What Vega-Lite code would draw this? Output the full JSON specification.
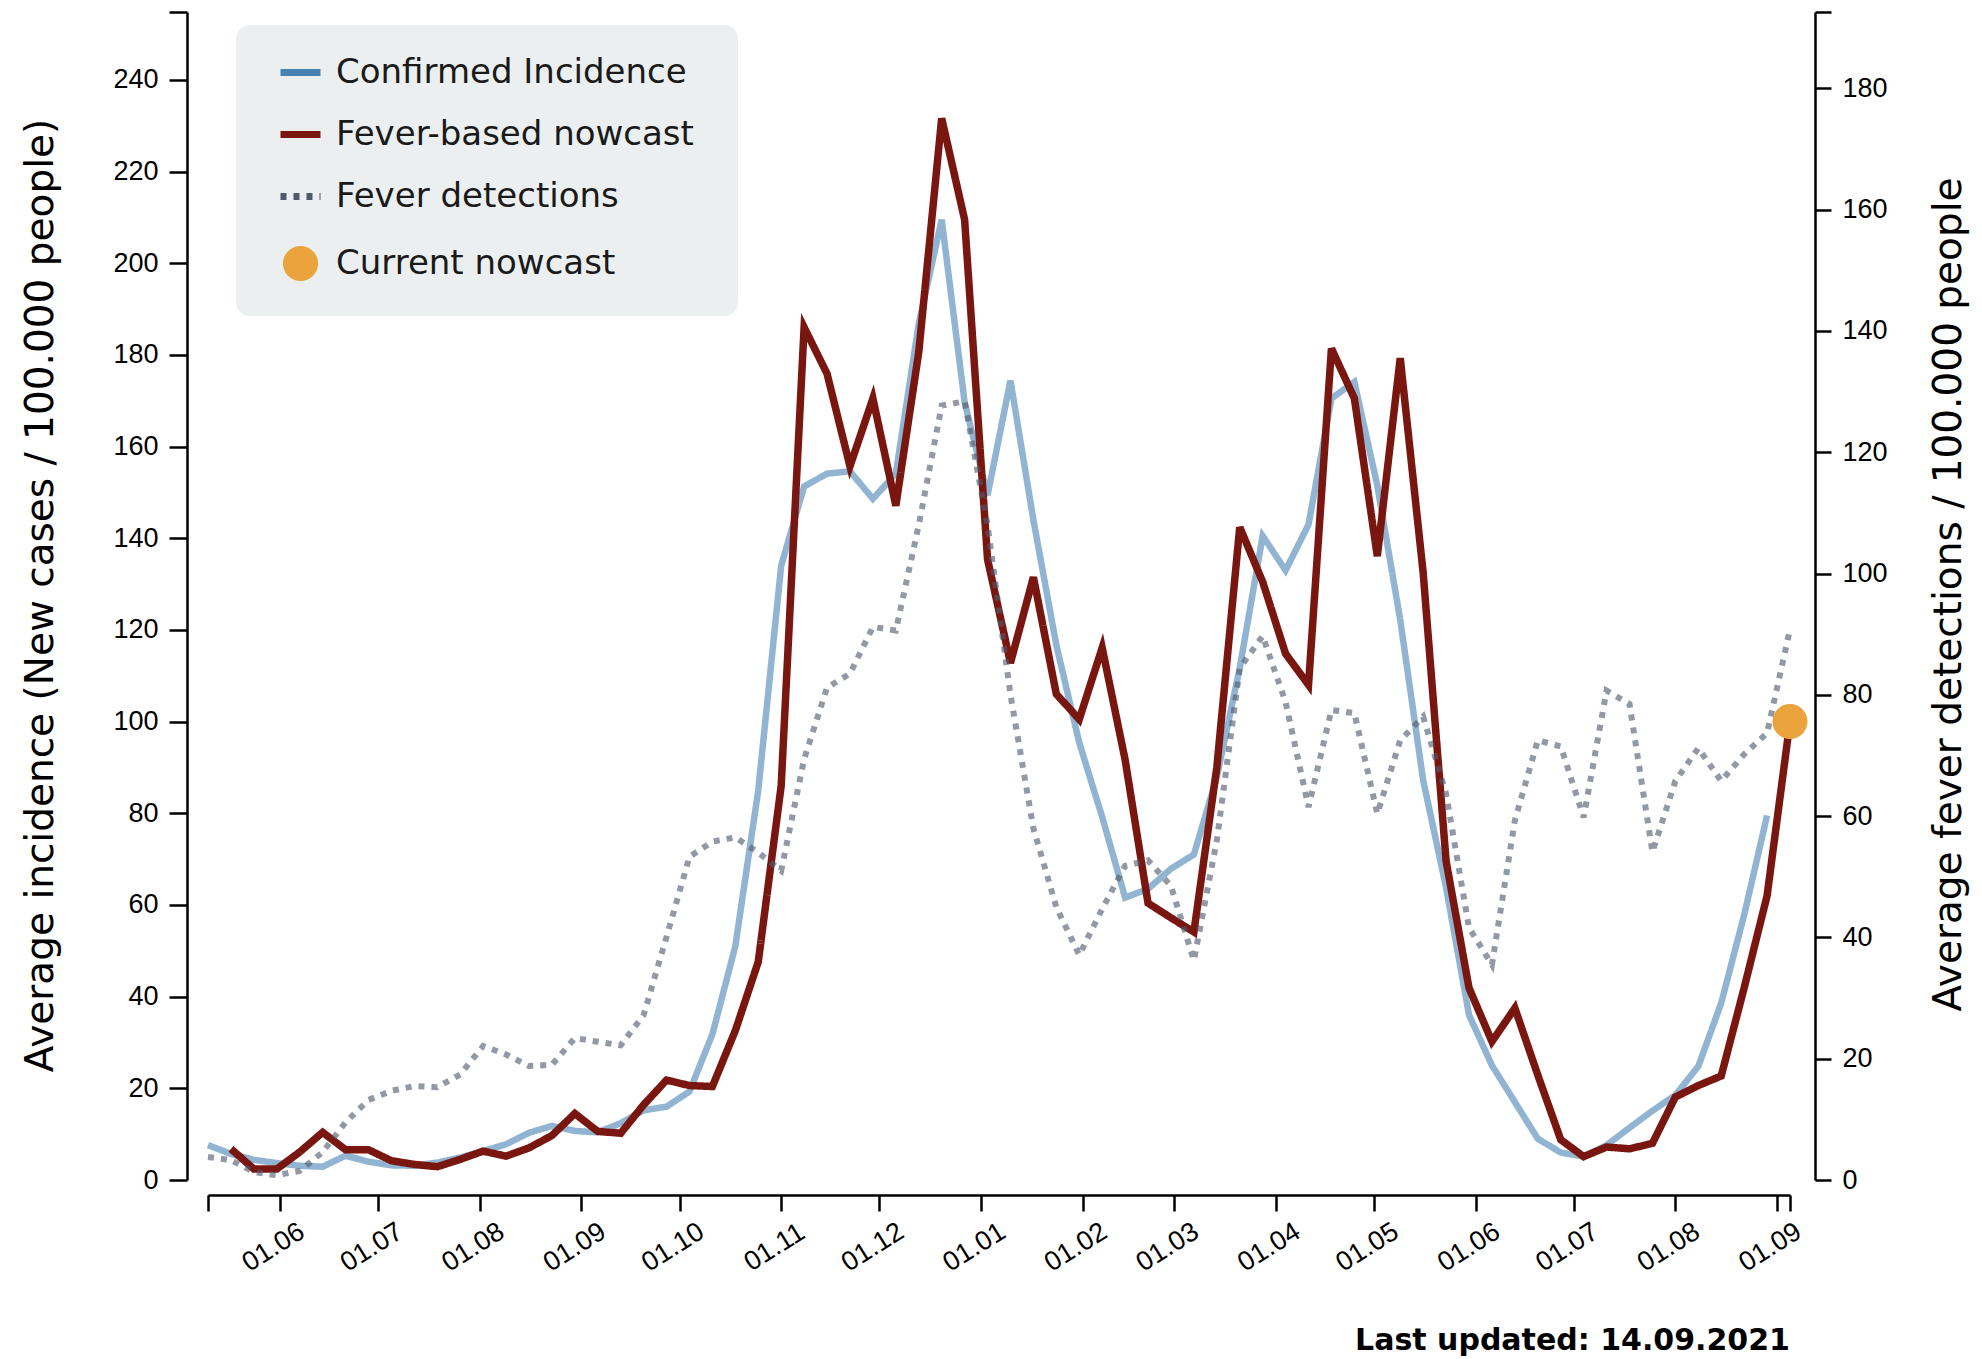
{
  "$schema": "https://vega.github.io/schema/vega-lite/v6.json",
  "width": 1582,
  "height": 1168,
  "autosize": {"type": "none"},
  "padding": {"left": 208, "top": 12, "right": 192, "bottom": 179},
  "background": "white",
  "config": {
    "view": {"stroke": null},
    "axis": {
      "labelFont": "Liberation Sans",
      "labelFontSize": 27,
      "labelColor": "#000000",
      "domainColor": "#000000",
      "tickColor": "#000000",
      "domainWidth": 2.5,
      "tickWidth": 2.5,
      "grid": false,
      "titleFont": "DejaVu Sans",
      "titleFontSize": 39,
      "titleFontWeight": "normal",
      "titleColor": "#000000",
      "labelOverlap": false,
      "labelFlush": false
    }
  },
  "title": {
    "text": "Last updated: 14.09.2021",
    "orient": "bottom",
    "anchor": "end",
    "frame": "group",
    "font": "DejaVu Sans",
    "fontSize": 30,
    "fontWeight": "bold",
    "color": "#000000",
    "offset": 50
  },
  "data": {
    "values": [
      {"date": "2020-05-10", "confirmed": 7.6, "nowcast": null, "fever": 3.8, "current": null},
      {"date": "2020-05-17", "confirmed": 5.7, "nowcast": 6.8, "fever": 3.3, "current": null},
      {"date": "2020-05-24", "confirmed": 4.4, "nowcast": 2.4, "fever": 1.3, "current": null},
      {"date": "2020-05-31", "confirmed": 3.7, "nowcast": 2.4, "fever": 0.8, "current": null},
      {"date": "2020-06-07", "confirmed": 3.1, "nowcast": 6.1, "fever": 1.5, "current": null},
      {"date": "2020-06-14", "confirmed": 2.9, "nowcast": 10.4, "fever": 4.6, "current": null},
      {"date": "2020-06-21", "confirmed": 5.3, "nowcast": 6.6, "fever": 9.5, "current": null},
      {"date": "2020-06-28", "confirmed": 4.0, "nowcast": 6.6, "fever": 13.2, "current": null},
      {"date": "2020-07-05", "confirmed": 3.2, "nowcast": 4.2, "fever": 14.7, "current": null},
      {"date": "2020-07-12", "confirmed": 3.1, "nowcast": 3.4, "fever": 15.5, "current": null},
      {"date": "2020-07-19", "confirmed": 3.8, "nowcast": 2.9, "fever": 15.3, "current": null},
      {"date": "2020-07-26", "confirmed": 4.9, "nowcast": 4.5, "fever": 17.4, "current": null},
      {"date": "2020-08-02", "confirmed": 6.3, "nowcast": 6.3, "fever": 22.1, "current": null},
      {"date": "2020-08-09", "confirmed": 7.8, "nowcast": 5.2, "fever": 20.7, "current": null},
      {"date": "2020-08-16", "confirmed": 10.3, "nowcast": 7.0, "fever": 18.8, "current": null},
      {"date": "2020-08-23", "confirmed": 11.8, "nowcast": 9.7, "fever": 19.0, "current": null},
      {"date": "2020-08-30", "confirmed": 10.7, "nowcast": 14.5, "fever": 23.4, "current": null},
      {"date": "2020-09-06", "confirmed": 10.4, "nowcast": 10.6, "fever": 22.8, "current": null},
      {"date": "2020-09-13", "confirmed": 12.4, "nowcast": 10.2, "fever": 22.2, "current": null},
      {"date": "2020-09-20", "confirmed": 15.2, "nowcast": 16.4, "fever": 27.2, "current": null},
      {"date": "2020-09-27", "confirmed": 16.0, "nowcast": 21.8, "fever": 40.1, "current": null},
      {"date": "2020-10-04", "confirmed": 19.3, "nowcast": 20.6, "fever": 53.3, "current": null},
      {"date": "2020-10-11", "confirmed": 31.8, "nowcast": 20.4, "fever": 55.8, "current": null},
      {"date": "2020-10-18", "confirmed": 51.0, "nowcast": 32.6, "fever": 56.5, "current": null},
      {"date": "2020-10-25", "confirmed": 85.0, "nowcast": 47.6, "fever": 54.0, "current": null},
      {"date": "2020-11-01", "confirmed": 134.0, "nowcast": 86.0, "fever": 51.0, "current": null},
      {"date": "2020-11-08", "confirmed": 151.3, "nowcast": 186.0, "fever": 69.4, "current": null},
      {"date": "2020-11-15", "confirmed": 154.1, "nowcast": 175.9, "fever": 81.2, "current": null},
      {"date": "2020-11-22", "confirmed": 154.6, "nowcast": 155.7, "fever": 83.5, "current": null},
      {"date": "2020-11-29", "confirmed": 148.6, "nowcast": 170.5, "fever": 91.2, "current": null},
      {"date": "2020-12-06", "confirmed": 154.1, "nowcast": 147.1, "fever": 90.6, "current": null},
      {"date": "2020-12-13", "confirmed": 186.8, "nowcast": 180.6, "fever": 108.0, "current": null},
      {"date": "2020-12-20", "confirmed": 209.5, "nowcast": 231.6, "fever": 127.7, "current": null},
      {"date": "2020-12-27", "confirmed": 169.7, "nowcast": 209.5, "fever": 128.4, "current": null},
      {"date": "2021-01-03", "confirmed": 149.4, "nowcast": 135.4, "fever": 108.0, "current": null},
      {"date": "2021-01-10", "confirmed": 174.4, "nowcast": 112.8, "fever": 80.0, "current": null},
      {"date": "2021-01-17", "confirmed": 144.0, "nowcast": 131.5, "fever": 58.0, "current": null},
      {"date": "2021-01-24", "confirmed": 116.7, "nowcast": 106.0, "fever": 45.0, "current": null},
      {"date": "2021-01-31", "confirmed": 95.4, "nowcast": 100.5, "fever": 37.1, "current": null},
      {"date": "2021-02-07", "confirmed": 79.2, "nowcast": 116.1, "fever": 44.7, "current": null},
      {"date": "2021-02-14", "confirmed": 61.6, "nowcast": 91.7, "fever": 51.8, "current": null},
      {"date": "2021-02-21", "confirmed": 63.5, "nowcast": 60.4, "fever": 52.7, "current": null},
      {"date": "2021-02-28", "confirmed": 67.9, "nowcast": 57.2, "fever": 48.5, "current": null},
      {"date": "2021-03-07", "confirmed": 71.0, "nowcast": 54.1, "fever": 36.2, "current": null},
      {"date": "2021-03-14", "confirmed": 87.9, "nowcast": 90.0, "fever": 56.0, "current": null},
      {"date": "2021-03-21", "confirmed": 111.7, "nowcast": 142.4, "fever": 84.4, "current": null},
      {"date": "2021-03-28", "confirmed": 140.5, "nowcast": 130.5, "fever": 89.7, "current": null},
      {"date": "2021-04-04", "confirmed": 133.0, "nowcast": 114.8, "fever": 78.8, "current": null},
      {"date": "2021-04-11", "confirmed": 143.0, "nowcast": 108.0, "fever": 61.5, "current": null},
      {"date": "2021-04-18", "confirmed": 170.5, "nowcast": 181.4, "fever": 77.5, "current": null},
      {"date": "2021-04-25", "confirmed": 174.1, "nowcast": 170.5, "fever": 77.0, "current": null},
      {"date": "2021-05-02", "confirmed": 151.5, "nowcast": 136.1, "fever": 60.4, "current": null},
      {"date": "2021-05-09", "confirmed": 122.2, "nowcast": 179.3, "fever": 72.5, "current": null},
      {"date": "2021-05-16", "confirmed": 87.2, "nowcast": 132.5, "fever": 76.4, "current": null},
      {"date": "2021-05-23", "confirmed": 63.8, "nowcast": 69.6, "fever": 63.7, "current": null},
      {"date": "2021-05-30", "confirmed": 36.0, "nowcast": 41.9, "fever": 41.6, "current": null},
      {"date": "2021-06-06", "confirmed": 25.0, "nowcast": 30.2, "fever": 35.5, "current": null},
      {"date": "2021-06-13", "confirmed": 17.0, "nowcast": 37.5, "fever": 59.3, "current": null},
      {"date": "2021-06-20", "confirmed": 9.0, "nowcast": 22.9, "fever": 72.5, "current": null},
      {"date": "2021-06-27", "confirmed": 6.0, "nowcast": 8.8, "fever": 71.5, "current": null},
      {"date": "2021-07-04", "confirmed": 5.1, "nowcast": 5.1, "fever": 59.8, "current": null},
      {"date": "2021-07-11", "confirmed": 7.6, "nowcast": 7.2, "fever": 80.7, "current": null},
      {"date": "2021-07-18", "confirmed": 11.4, "nowcast": 6.8, "fever": 78.5, "current": null},
      {"date": "2021-07-25", "confirmed": 15.1, "nowcast": 8.0, "fever": 54.1, "current": null},
      {"date": "2021-08-01", "confirmed": 18.5, "nowcast": 18.1, "fever": 65.8, "current": null},
      {"date": "2021-08-08", "confirmed": 24.8, "nowcast": 20.6, "fever": 71.2, "current": null},
      {"date": "2021-08-15", "confirmed": 38.6, "nowcast": 22.7, "fever": 65.8, "current": null},
      {"date": "2021-08-22", "confirmed": 57.8, "nowcast": 41.9, "fever": 70.2, "current": null},
      {"date": "2021-08-29", "confirmed": 79.5, "nowcast": 62.0, "fever": 73.7, "current": null},
      {"date": "2021-09-05", "confirmed": null, "nowcast": 100.0, "fever": 90.8, "current": 100.0}
    ]
  },
  "encoding": {
    "x": {
      "field": "date",
      "type": "temporal",
      "scale": {
        "type": "utc",
        "nice": false,
        "domain": [
          {"year": 2020, "month": 5, "date": 10, "utc": true},
          {"year": 2021, "month": 9, "date": 5, "utc": true}
        ]
      },
      "axis": {
        "title": null,
        "orient": "bottom",
        "offset": 15,
        "values": [
          {"year": 2020, "month": 5, "date": 10, "utc": true},
          {"year": 2020, "month": 6, "date": 1, "utc": true},
          {"year": 2020, "month": 7, "date": 1, "utc": true},
          {"year": 2020, "month": 8, "date": 1, "utc": true},
          {"year": 2020, "month": 9, "date": 1, "utc": true},
          {"year": 2020, "month": 10, "date": 1, "utc": true},
          {"year": 2020, "month": 11, "date": 1, "utc": true},
          {"year": 2020, "month": 12, "date": 1, "utc": true},
          {"year": 2021, "month": 1, "date": 1, "utc": true},
          {"year": 2021, "month": 2, "date": 1, "utc": true},
          {"year": 2021, "month": 3, "date": 1, "utc": true},
          {"year": 2021, "month": 4, "date": 1, "utc": true},
          {"year": 2021, "month": 5, "date": 1, "utc": true},
          {"year": 2021, "month": 6, "date": 1, "utc": true},
          {"year": 2021, "month": 7, "date": 1, "utc": true},
          {"year": 2021, "month": 8, "date": 1, "utc": true},
          {"year": 2021, "month": 9, "date": 1, "utc": true},
          {"year": 2021, "month": 9, "date": 5, "utc": true}
        ],
        "format": "%d.%m",
        "labelExpr": "utcdate(datum.value) == 1 ? utcFormat(datum.value, '%d.%m') : ''",
        "tickSize": 16,
        "labelAngle": -32,
        "labelAlign": "center",
        "labelBaseline": "middle",
        "labelPadding": 36,
        "labelOffset": -7
      }
    }
  },
  "layer": [
    {
      "mark": {"type": "line", "strokeWidth": 6.5, "strokeJoin": "miter"},
      "encoding": {
        "y": {
          "field": "confirmed",
          "type": "quantitative",
          "scale": {"domain": [0, 254.8], "nice": false, "zero": true},
          "axis": {
            "orient": "left",
            "offset": 21,
            "values": [0, 20, 40, 60, 80, 100, 120, 140, 160, 180, 200, 220, 240, 254.8],
            "labelExpr": "datum.value > 250 ? '' : datum.label",
            "tickSize": 18,
            "labelPadding": 11,
            "title": "Average incidence (New cases / 100.000 people)",
            "titleAngle": -90,
            "titleAlign": "center",
            "titleBaseline": "alphabetic",
            "titleX": -135,
            "titleY": 583
          }
        },
        "strokeOpacity": {"value": 0.6},
        "strokeDash": {
          "datum": "Confirmed Incidence",
          "type": "nominal",
          "scale": {
            "domain": ["Confirmed Incidence", "Fever-based nowcast", "Fever detections", "Current nowcast"],
            "range": [[1, 0], [1, 0], [6, 7], [1, 0]]
          }
        },
        "color": {
          "datum": "Confirmed Incidence",
          "type": "nominal",
          "scale": {
            "domain": ["Confirmed Incidence", "Fever-based nowcast", "Fever detections", "Current nowcast"],
            "range": ["#4682b4", "#7a1610", "#4f5a6d", "#eba33c"]
          },
          "legend": {
            "orient": "none",
            "legendX": 28,
            "legendY": 13,
            "title": " ",
            "titleOrient": "right",
            "titleFontSize": 2,
            "titlePadding": 20,
            "fillColor": "#eceff0",
            "cornerRadius": 14,
            "padding": 24,
            "labelFont": "DejaVu Sans",
            "labelFontSize": 34,
            "labelColor": "#1a1a1a",
            "labelLimit": 1000,
            "labelOffset": 12,
            "rowPadding": 21,
            "symbolOffset": 17,
            "symbolSize": 1600,
            "symbolStrokeWidth": 7,
            "symbolOpacity": 1,
            "symbolType": "stroke"
          }
        }
      }
    },
    {
      "mark": {"type": "line", "strokeWidth": 7.5, "strokeJoin": "miter"},
      "encoding": {
        "y": {
          "field": "nowcast",
          "type": "quantitative",
          "scale": {"domain": [0, 254.8], "nice": false, "zero": true},
          "axis": null
        },
        "strokeDash": {"datum": "Fever-based nowcast", "type": "nominal"},
        "color": {"datum": "Fever-based nowcast", "type": "nominal"}
      }
    },
    {
      "mark": {"type": "line", "strokeWidth": 6, "strokeCap": "butt"},
      "encoding": {
        "y": {
          "field": "fever",
          "type": "quantitative",
          "scale": {"domain": [0, 192.6], "nice": false, "zero": true},
          "axis": {
            "orient": "right",
            "offset": 25,
            "values": [0, 20, 40, 60, 80, 100, 120, 140, 160, 180, 192.6],
            "labelExpr": "datum.value > 190 ? '' : datum.label",
            "tickSize": 16,
            "labelPadding": 11,
            "title": "Average fever detections / 100.000 people",
            "titleAngle": -90,
            "titleAlign": "center",
            "titleBaseline": "alphabetic",
            "titleX": 145,
            "titleY": 582
          }
        },
        "strokeOpacity": {"value": 0.62},
        "strokeDash": {"datum": "Fever detections", "type": "nominal"},
        "color": {"datum": "Fever detections", "type": "nominal"}
      }
    },
    {
      "mark": {"type": "point", "filled": true, "size": 2500, "opacity": 1},
      "encoding": {
        "y": {
          "field": "current",
          "type": "quantitative",
          "scale": {"domain": [0, 254.8], "nice": false, "zero": true},
          "axis": null
        },
        "shape": {
          "datum": "Current nowcast",
          "type": "nominal",
          "scale": {
            "domain": ["Confirmed Incidence", "Fever-based nowcast", "Fever detections", "Current nowcast"],
            "range": ["stroke", "stroke", "stroke", "M0.7,0A0.7,0.7,0,1,1,-0.7,0A0.7,0.7,0,1,1,0.7,0Z"]
          }
        },
        "color": {"datum": "Current nowcast", "type": "nominal"}
      }
    }
  ],
  "resolve": {"scale": {"y": "independent"}, "axis": {"y": "independent"}}
}
